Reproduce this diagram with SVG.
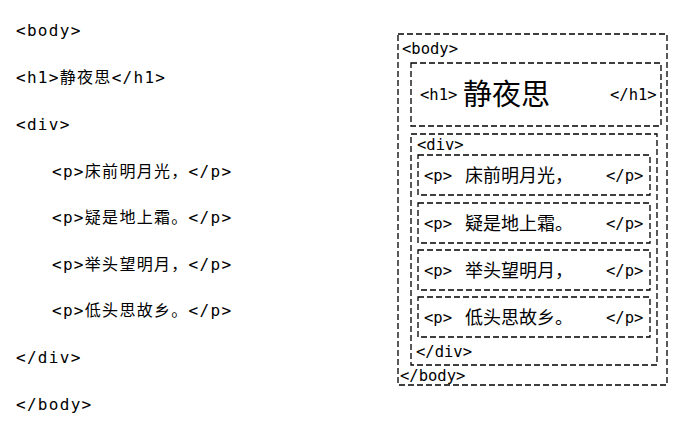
<svg xmlns="http://www.w3.org/2000/svg" width="700" height="433" viewBox="0 0 700 433">
<style>
text{font-family:"DejaVu Sans Mono","Noto Sans CJK SC",monospace;fill:#000}
.l{font-size:16px;letter-spacing:1.3px}
.s{font-size:15.5px}
.b{fill:none;stroke:#000;stroke-width:1.3;stroke-dasharray:6,3}
.c{font-family:"Noto Sans CJK SC",sans-serif;font-size:18px}
</style>
<rect width="700" height="433" fill="#fff"/>
<g id="source">
<text x="16" y="36" class="l">&lt;body&gt;</text>
<text x="16" y="83" class="l">&lt;h1&gt;静夜思&lt;/h1&gt;</text>
<text x="16" y="130" class="l">&lt;div&gt;</text>
<text x="52" y="177" class="l">&lt;p&gt;床前明月光，&lt;/p&gt;</text>
<text x="52" y="223" class="l">&lt;p&gt;疑是地上霜。&lt;/p&gt;</text>
<text x="52" y="270" class="l">&lt;p&gt;举头望明月，&lt;/p&gt;</text>
<text x="52" y="316" class="l">&lt;p&gt;低头思故乡。&lt;/p&gt;</text>
<text x="16" y="363" class="l">&lt;/div&gt;</text>
<text x="16" y="410" class="l">&lt;/body&gt;</text>
</g>
<g id="body">
<rect class="b" x="398" y="34" width="269" height="351"/>
<text x="402" y="54" class="s">&lt;body&gt;</text>
<text x="400" y="381" class="s">&lt;/body&gt;</text>
</g>
<g id="h1">
<rect class="b" x="411" y="63" width="250" height="63"/>
<text x="420" y="100" class="s">&lt;h1&gt;</text>
<text x="463" y="105" style="font-family:'Noto Sans CJK SC',sans-serif;font-size:29px">静夜思</text>
<text x="610" y="100" class="s">&lt;/h1&gt;</text>
</g>
<g id="div">
<rect class="b" x="411" y="134" width="246" height="231"/>
<text x="417" y="150" class="s">&lt;div&gt;</text>
<text x="416" y="357" class="s">&lt;/div&gt;</text>
</g>
<g id="p1"><rect class="b" x="418" y="155" width="232" height="40"/><text x="424" y="181" class="s">&lt;p&gt;</text><text x="465" y="182" class="c">床前明月光，</text><text x="606" y="181" class="s">&lt;/p&gt;</text></g>
<g id="p2"><rect class="b" x="418" y="203" width="232" height="40"/><text x="424" y="229" class="s">&lt;p&gt;</text><text x="465" y="230" class="c">疑是地上霜。</text><text x="606" y="229" class="s">&lt;/p&gt;</text></g>
<g id="p3"><rect class="b" x="418" y="250" width="232" height="40"/><text x="424" y="276" class="s">&lt;p&gt;</text><text x="465" y="277" class="c">举头望明月，</text><text x="606" y="276" class="s">&lt;/p&gt;</text></g>
<g id="p4"><rect class="b" x="418" y="297" width="232" height="40"/><text x="424" y="323" class="s">&lt;p&gt;</text><text x="465" y="324" class="c">低头思故乡。</text><text x="606" y="323" class="s">&lt;/p&gt;</text></g>
</svg>
